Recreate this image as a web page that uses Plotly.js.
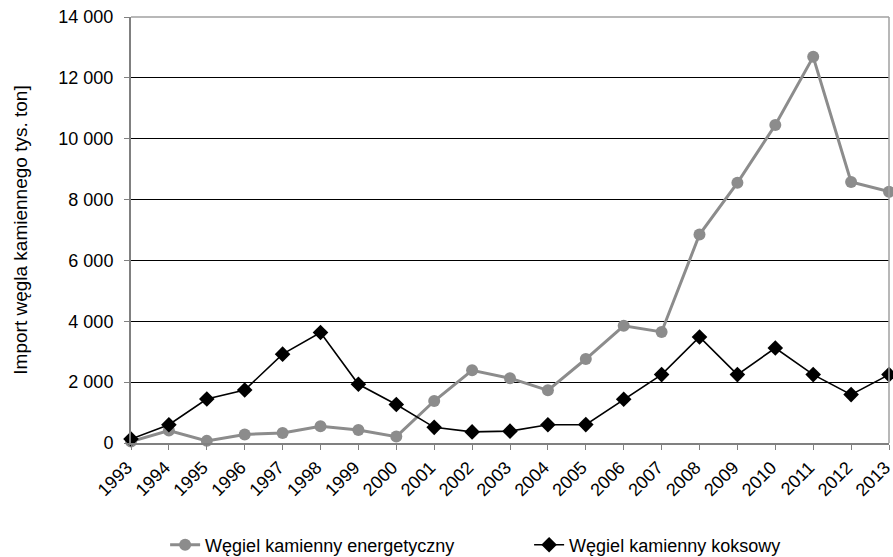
<!DOCTYPE html>
<html>
<head>
<meta charset="utf-8">
<script src="https://cdn.plot.ly/plotly-3.0.1.min.js"></script>
<style>html,body{margin:0;padding:0;background:#fff;}#chart{width:893px;height:557px;}</style>
</head>
<body>
<div id="chart"></div>
<script>
const years = [1993,1994,1995,1996,1997,1998,1999,2000,2001,2002,2003,2004,2005,2006,2007,2008,2009,2010,2011,2012,2013];
const energetyczny = [50,410,70,280,330,550,430,210,1380,2390,2130,1730,2760,3850,3650,6850,8550,10450,12690,8580,8260];
const koksowy = [130,600,1445,1740,2920,3630,1930,1265,515,365,390,600,605,1436,2248,3484,2248,3122,2248,1591,2248];
const seriesNames = ["Węgiel kamienny energetyczny", "Węgiel kamienny koksowy"];
const yTickVals = [0,2000,4000,6000,8000,10000,12000,14000];
const yTitle = "Import węgla kamiennego tys. ton]";

const fam = "Liberation Sans, Arial, sans-serif";
const tickFont = {family: fam, size: 18, color: "#000"};
const legendFont = {family: fam, size: 18, color: "#000"};
const titleFont = {family: fam, size: 19, color: "#000"};

const traces = [
  {x: years, y: energetyczny, name: seriesNames[0], type: "scatter", mode: "lines+markers",
   line: {color: "#8c8c8c", width: 3}, marker: {symbol: "circle", size: 12, color: "#8c8c8c"}, cliponaxis: false},
  {x: years, y: koksowy, name: seriesNames[1], type: "scatter", mode: "lines+markers",
   line: {color: "#000", width: 1.6}, marker: {symbol: "diamond", size: 12, color: "#000"}, cliponaxis: false}
];

const layout = {
  width: 893, height: 557,
  margin: {l: 131, r: 4, t: 17, b: 114, autoexpand: false},
  paper_bgcolor: "#fff", plot_bgcolor: "#fff",
  font: tickFont,
  separators: ", ",
  showlegend: true,
  legend: {orientation: "h", x: 0.045, xanchor: "left",
           y: -0.2394, yanchor: "middle", font: legendFont,
           entrywidth: 319, entrywidthmode: "pixels", itemwidth: 30},
  xaxis: {type: "linear", range: [1993, 2013], tickvals: years, ticktext: years.map(String),
          tickangle: -45, ticks: "outside", ticklen: 5, tickcolor: "#808080", tickwidth: 1,
          ticklabeloverflow: "allow", ticklabelshift: -4,
          showgrid: false, zeroline: false, showline: true, linecolor: "#808080", linewidth: 2,
          tickfont: tickFont, fixedrange: true},
  yaxis: {range: [0, 14000], tickvals: yTickVals, tickformat: ",d",
          ticks: "outside", ticklen: 5, tickcolor: "#808080", tickwidth: 1, ticklabelstandoff: 7,
          ticklabeloverflow: "allow",
          showgrid: true, gridcolor: "#000", gridwidth: 1, zeroline: false,
          showline: true, linecolor: "#808080", linewidth: 2, tickfont: tickFont,
          title: {text: yTitle, font: titleFont, standoff: 26}, fixedrange: true},
  shapes: [
    {type: "line", xref: "paper", yref: "paper", x0: 1, x1: 1, y0: 0, y1: 1, line: {color: "#a0a0a0", width: 1.5}},
    {type: "line", xref: "paper", yref: "paper", x0: 0, x1: 1, y0: 1, y1: 1, line: {color: "#a0a0a0", width: 1.5}}
  ]
};

Plotly.newPlot("chart", traces, layout, {displayModeBar: false, staticPlot: true});
</script>
</body>
</html>
